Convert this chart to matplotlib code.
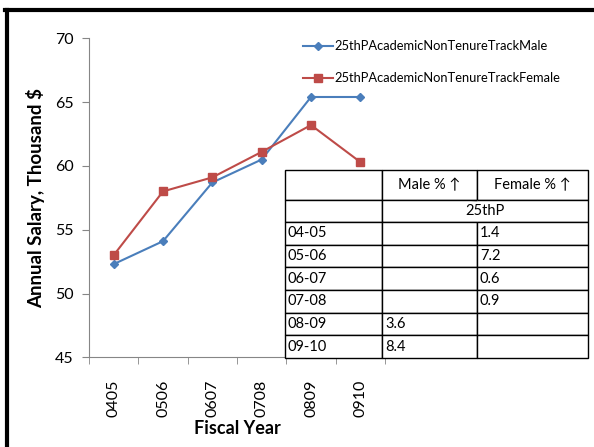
import matplotlib
matplotlib.use("Agg")
import matplotlib.pyplot as plt
from matplotlib.lines import Line2D

plt.rcParams['font.family'] = ['Lato', 'DejaVu Sans']

years = ['0405', '0506', '0607', '0708', '0809', '0910']
male = [52.3, 54.1, 58.7, 60.5, 65.4, 65.4]
female = [53.0, 58.0, 59.1, 61.1, 63.2, 60.3]

row_labels = ['04-05', '05-06', '06-07', '07-08', '08-09', '09-10']
male_pct = ['', '', '', '', '3.6', '8.4']
female_pct = ['1.4', '7.2', '0.6', '0.9', '', '']
col_headers = ['', 'Male % \u2191', 'Female % \u2191']
group_label = '25thP'

fig = plt.figure(figsize=(5.94, 4.47), dpi=100)
W, H = 594, 447

def fx(px):
    return px / W

def fy(py):
    return 1 - py / H

ax = fig.add_axes([fx(89), fy(357.3), fx(385) - fx(89), fy(38.3) - fy(357.3)])
x = list(range(len(years)))
ax.plot(x, male, color='#4A7EBB', marker='D', markersize=4, lw=1.5,
        label='25thPAcademicNonTenureTrackMale')
ax.plot(x, female, color='#BE4B48', marker='s', markersize=6, lw=1.5,
        label='25thPAcademicNonTenureTrackFemale')

ax.set_xlim(-0.5, len(years) - 0.5)
ax.set_ylim(45, 70)
ax.set_yticks([45, 50, 55, 60, 65, 70])
ax.set_xticks(x)
ax.set_xticklabels(years, rotation=90, fontsize=11.5)
ax.set_xticks([i - 0.5 for i in range(len(years) + 1)], minor=True)
ax.tick_params(axis='x', which='major', length=0, pad=16)
ax.tick_params(axis='x', which='minor', length=5, color='#868686', direction='out')
ax.tick_params(axis='y', length=5, color='#868686', direction='out', labelsize=11.5, pad=6)
for s in ['top', 'right']:
    ax.spines[s].set_visible(False)
for s in ['left', 'bottom']:
    ax.spines[s].set_color('#868686')
ax.set_xlabel('Fiscal Year', fontsize=13, fontweight='bold', labelpad=2)
ax.set_ylabel('Annual Salary, Thousand $', fontsize=13.5, fontweight='bold', labelpad=7)

fig.legend(loc='upper left', bbox_to_anchor=(fx(298), fy(35)), frameon=False,
           fontsize=9.3, handlelength=2.3, handletextpad=0.1, labelspacing=1.55,
           borderaxespad=0)

# table
tax = fig.add_axes([fx(285), fy(358), fx(588) - fx(285), fy(170) - fy(358)])
tax.axis('off')
cells = [col_headers, ['', '', '']]
for r, m, f in zip(row_labels, male_pct, female_pct):
    cells.append([r, m, f])
tab = tax.table(cellText=cells, bbox=[0, 0, 1, 1], cellLoc='left')
tab.auto_set_font_size(False)
tab.set_fontsize(10.5)
colw = [97, 94, 111]
rowh = [30, 22] + [22.6] * 6
for (r, c), cell in tab.get_celld().items():
    cell.set_width(colw[c] / sum(colw))
    cell.set_height(rowh[r] / sum(rowh))
    cell.set_linewidth(1.0)
    cell.set_edgecolor('black')
    cell.PAD = 0.03
    if r == 0:
        cell.get_text().set_ha('center')
        cell._loc = 'center'
tab[1, 1].visible_edges = 'BTL'
tab[1, 2].visible_edges = 'BTR'
x_mid = (colw[0] + (colw[1] + colw[2]) / 2) / sum(colw)
y_mid = 1 - (rowh[0] + rowh[1] / 2) / sum(rowh)
tax.text(x_mid, y_mid, group_label, ha='center', va='center', fontsize=10.5,
         transform=tax.transAxes)

# frame border (top and left)
fig.add_artist(Line2D([fx(6.5), fx(6.5)], [0, fy(9.5)], color='black', lw=3,
                      transform=fig.transFigure))
fig.add_artist(Line2D([fx(5), 1], [fy(9.5), fy(9.5)], color='black', lw=3,
                      transform=fig.transFigure))

fig.savefig('out.png', dpi=100)
